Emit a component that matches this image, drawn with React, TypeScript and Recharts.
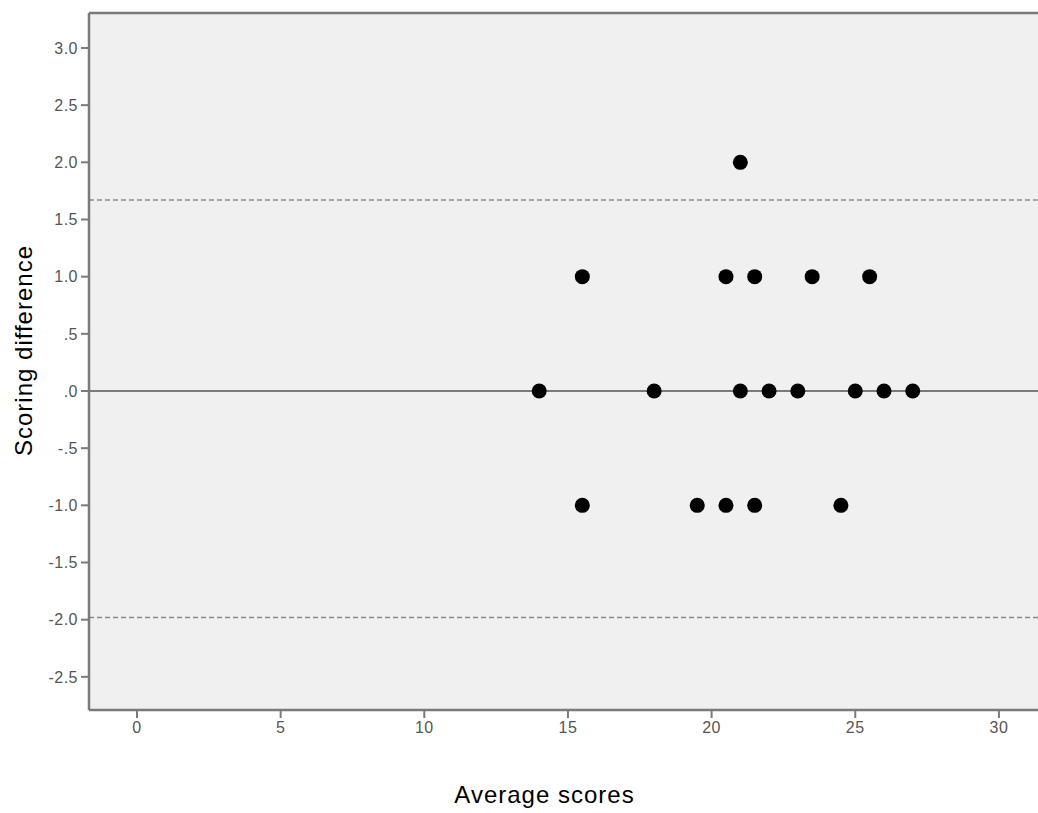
import React from 'react'
import {
  ScatterChart,
  Scatter,
  XAxis,
  YAxis,
  CartesianGrid,
  ReferenceLine,
  Label
} from 'recharts'

// values
const averageScores = [15.5, 20.5, 21.5, 23.5, 25.5, 21, 14, 18, 21, 22, 23, 25, 26, 27, 15.5, 19.5, 20.5, 21.5, 24.5]
const scoringDiffs = [1, 1, 1, 1, 1, 2, 0, 0, 0, 0, 0, 0, 0, 0, -1, -1, -1, -1, -1]

const xTicks = [0, 5, 10, 15, 20, 25, 30]
const yTicks = [-2.5, -2, -1.5, -1, -0.5, 0, 0.5, 1, 1.5, 2, 2.5, 3]

const zeroLine = 0
const upperLimit = 1.67
const lowerLimit = -1.98

const xDomain: [number, number] = [-1.67, 31.36]
const yDomain: [number, number] = [-2.79, 3.306]

const points = averageScores.map((x, i) => ({ x, y: scoringDiffs[i] }))

const axisGray = '#7a7a7a'
const fontFamily = '"Liberation Sans", Arial, sans-serif'

const fmtY = (v: number) => v.toFixed(1).replace(/^(-?)0\./, '$1.')

const Dot = (props: any) => <circle cx={props.cx} cy={props.cy} r={7.5} fill="#000" />

const YTitle = (props: any) => {
  const vb = props.viewBox || { x: 0, y: 13, width: 89, height: 697 }
  const cx = vb.x + 32
  const cy = vb.y + vb.height / 2 - 11
  return (
    <text
      x={cx}
      y={cy}
      transform={`rotate(-90, ${cx}, ${cy})`}
      textAnchor="middle"
      fontSize={24}
      letterSpacing={1}
      fill="#000"
      fontFamily={fontFamily}
    >
      Scoring difference
    </text>
  )
}

const XTitle = (props: any) => {
  const vb = props.viewBox || { x: 89, y: 710, width: 949, height: 103 }
  const cx = vb.x + vb.width / 2 - 19
  const cy = vb.y + vb.height - 10
  return (
    <text x={cx} y={cy} textAnchor="middle" fontSize={24} letterSpacing={1} fill="#000" fontFamily={fontFamily}>
      Average scores
    </text>
  )
}

const App = () => {
  const tickStyle = { fontSize: 16, fill: '#555', fontFamily, letterSpacing: 0.5 }
  return (
    <div style={{ position: 'absolute', left: 0, top: 0, background: '#fff' }}>
      <ScatterChart width={1038} height={813} margin={{ top: 13, right: 0, bottom: 0, left: 0 }}>
        <CartesianGrid horizontal={false} vertical={false} fill="#f0f0f0" />
        <XAxis
          type="number"
          dataKey="x"
          domain={xDomain}
          ticks={xTicks}
          interval={0}
          allowDataOverflow
          height={103}
          stroke={axisGray}
          axisLine={{ stroke: axisGray, strokeWidth: 2.5 }}
          tickLine={{ stroke: axisGray, strokeWidth: 2 }}
          tickSize={8}
          tickMargin={4}
          tick={tickStyle}
        >
          <Label content={<XTitle />} />
        </XAxis>
        <YAxis
          type="number"
          dataKey="y"
          domain={yDomain}
          ticks={yTicks}
          interval={0}
          allowDataOverflow
          width={89}
          tickFormatter={fmtY}
          axisLine={{ stroke: axisGray, strokeWidth: 2.5 }}
          tickLine={{ stroke: axisGray, strokeWidth: 2 }}
          tickSize={8}
          tickMargin={3}
          tick={tickStyle}
        >
          <Label content={<YTitle />} />
        </YAxis>
        <ReferenceLine y={yDomain[1]} stroke={axisGray} strokeWidth={2.5} />
        <ReferenceLine y={zeroLine} stroke="#7a7a7a" strokeWidth={2} />
        <ReferenceLine y={upperLimit} stroke="#8a8a8a" strokeWidth={1.5} strokeDasharray="5 3" />
        <ReferenceLine y={lowerLimit} stroke="#8a8a8a" strokeWidth={1.5} strokeDasharray="5 3" />
        <Scatter data={points} shape={<Dot />} isAnimationActive={false} />
      </ScatterChart>
    </div>
  )
}

export default App
